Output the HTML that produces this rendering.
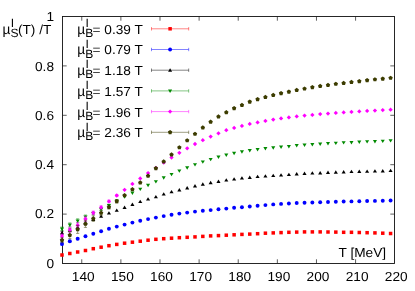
<!DOCTYPE html><html><head><meta charset="utf-8"><style>html,body{margin:0;padding:0;background:#fff}svg{display:block}text{font-family:"Liberation Sans",sans-serif;font-size:13px;fill:#000;text-rendering:geometricPrecision}</style></head><body>
<svg width="415" height="291" viewBox="0 0 415 291">
<rect width="415" height="291" fill="#fff"/>
<path d="M81.76 263.5v-4.2M81.76 16.5v4.2M120.88 263.5v-4.2M120.88 16.5v4.2M159.99 263.5v-4.2M159.99 16.5v4.2M199.11 263.5v-4.2M199.11 16.5v4.2M238.23 263.5v-4.2M238.23 16.5v4.2M277.35 263.5v-4.2M277.35 16.5v4.2M316.46 263.5v-4.2M316.46 16.5v4.2M355.58 263.5v-4.2M355.58 16.5v4.2M62.5 214.10h4.2M394.5 214.10h-4.2M62.5 164.70h4.2M394.5 164.70h-4.2M62.5 115.30h4.2M394.5 115.30h-4.2M62.5 65.90h4.2M394.5 65.90h-4.2" stroke="#000" stroke-width="0.8" stroke-opacity="0.8" fill="none"/>
<rect x="62.5" y="16.5" width="332" height="247" fill="none" stroke="#141414" stroke-width="0.92"/>
<g><rect x="60.25" y="253.25" width="3.5" height="3.5" fill="#ff0000"/><rect x="68.07" y="251.75" width="3.5" height="3.5" fill="#ff0000"/><rect x="75.90" y="250.25" width="3.5" height="3.5" fill="#ff0000"/><rect x="83.72" y="248.75" width="3.5" height="3.5" fill="#ff0000"/><rect x="91.54" y="246.95" width="3.5" height="3.5" fill="#ff0000"/><rect x="99.37" y="245.45" width="3.5" height="3.5" fill="#ff0000"/><rect x="107.19" y="243.95" width="3.5" height="3.5" fill="#ff0000"/><rect x="115.01" y="242.65" width="3.5" height="3.5" fill="#ff0000"/><rect x="122.84" y="241.45" width="3.5" height="3.5" fill="#ff0000"/><rect x="130.66" y="240.45" width="3.5" height="3.5" fill="#ff0000"/><rect x="138.49" y="239.45" width="3.5" height="3.5" fill="#ff0000"/><rect x="146.31" y="238.45" width="3.5" height="3.5" fill="#ff0000"/><rect x="154.13" y="237.55" width="3.5" height="3.5" fill="#ff0000"/><rect x="161.96" y="236.95" width="3.5" height="3.5" fill="#ff0000"/><rect x="169.78" y="236.45" width="3.5" height="3.5" fill="#ff0000"/><rect x="177.60" y="235.95" width="3.5" height="3.5" fill="#ff0000"/><rect x="185.43" y="235.55" width="3.5" height="3.5" fill="#ff0000"/><rect x="193.25" y="235.15" width="3.5" height="3.5" fill="#ff0000"/><rect x="201.07" y="234.65" width="3.5" height="3.5" fill="#ff0000"/><rect x="208.90" y="234.15" width="3.5" height="3.5" fill="#ff0000"/><rect x="216.72" y="233.85" width="3.5" height="3.5" fill="#ff0000"/><rect x="224.54" y="233.45" width="3.5" height="3.5" fill="#ff0000"/><rect x="232.37" y="233.05" width="3.5" height="3.5" fill="#ff0000"/><rect x="240.19" y="232.65" width="3.5" height="3.5" fill="#ff0000"/><rect x="248.01" y="232.35" width="3.5" height="3.5" fill="#ff0000"/><rect x="255.84" y="231.95" width="3.5" height="3.5" fill="#ff0000"/><rect x="263.66" y="231.45" width="3.5" height="3.5" fill="#ff0000"/><rect x="271.49" y="231.15" width="3.5" height="3.5" fill="#ff0000"/><rect x="279.31" y="230.85" width="3.5" height="3.5" fill="#ff0000"/><rect x="287.13" y="230.55" width="3.5" height="3.5" fill="#ff0000"/><rect x="294.96" y="230.35" width="3.5" height="3.5" fill="#ff0000"/><rect x="302.78" y="230.15" width="3.5" height="3.5" fill="#ff0000"/><rect x="310.60" y="230.15" width="3.5" height="3.5" fill="#ff0000"/><rect x="318.43" y="230.15" width="3.5" height="3.5" fill="#ff0000"/><rect x="326.25" y="230.25" width="3.5" height="3.5" fill="#ff0000"/><rect x="334.07" y="230.35" width="3.5" height="3.5" fill="#ff0000"/><rect x="341.90" y="230.55" width="3.5" height="3.5" fill="#ff0000"/><rect x="349.72" y="230.55" width="3.5" height="3.5" fill="#ff0000"/><rect x="357.54" y="230.75" width="3.5" height="3.5" fill="#ff0000"/><rect x="365.37" y="230.95" width="3.5" height="3.5" fill="#ff0000"/><rect x="373.19" y="231.15" width="3.5" height="3.5" fill="#ff0000"/><rect x="381.01" y="231.45" width="3.5" height="3.5" fill="#ff0000"/><rect x="388.84" y="231.75" width="3.5" height="3.5" fill="#ff0000"/></g>
<g><path d="M62.00 243.00V245.00M60.40 243.00h3.2M60.40 245.00h3.2" stroke="#0000ff" stroke-width="0.8" stroke-opacity="0.62" fill="none"/><circle cx="62.00" cy="244.00" r="1.95" fill="#0000ff"/><path d="M69.82 240.30V242.30M68.22 240.30h3.2M68.22 242.30h3.2" stroke="#0000ff" stroke-width="0.8" stroke-opacity="0.62" fill="none"/><circle cx="69.82" cy="241.30" r="1.95" fill="#0000ff"/><path d="M77.65 237.90V239.70M76.05 237.90h3.2M76.05 239.70h3.2" stroke="#0000ff" stroke-width="0.8" stroke-opacity="0.62" fill="none"/><circle cx="77.65" cy="238.80" r="1.95" fill="#0000ff"/><circle cx="85.47" cy="236.30" r="1.95" fill="#0000ff"/><circle cx="93.29" cy="233.70" r="1.95" fill="#0000ff"/><circle cx="101.12" cy="231.30" r="1.95" fill="#0000ff"/><circle cx="108.94" cy="228.80" r="1.95" fill="#0000ff"/><circle cx="116.76" cy="226.60" r="1.95" fill="#0000ff"/><circle cx="124.59" cy="224.60" r="1.95" fill="#0000ff"/><circle cx="132.41" cy="222.60" r="1.95" fill="#0000ff"/><circle cx="140.24" cy="220.80" r="1.95" fill="#0000ff"/><circle cx="148.06" cy="219.10" r="1.95" fill="#0000ff"/><circle cx="155.88" cy="217.60" r="1.95" fill="#0000ff"/><circle cx="163.71" cy="216.10" r="1.95" fill="#0000ff"/><circle cx="171.53" cy="214.80" r="1.95" fill="#0000ff"/><circle cx="179.35" cy="213.60" r="1.95" fill="#0000ff"/><circle cx="187.18" cy="212.60" r="1.95" fill="#0000ff"/><circle cx="195.00" cy="211.60" r="1.95" fill="#0000ff"/><circle cx="202.82" cy="210.80" r="1.95" fill="#0000ff"/><circle cx="210.65" cy="210.10" r="1.95" fill="#0000ff"/><circle cx="218.47" cy="209.30" r="1.95" fill="#0000ff"/><circle cx="226.29" cy="208.60" r="1.95" fill="#0000ff"/><circle cx="234.12" cy="207.80" r="1.95" fill="#0000ff"/><circle cx="241.94" cy="207.30" r="1.95" fill="#0000ff"/><circle cx="249.76" cy="206.50" r="1.95" fill="#0000ff"/><circle cx="257.59" cy="205.70" r="1.95" fill="#0000ff"/><circle cx="265.41" cy="205.10" r="1.95" fill="#0000ff"/><circle cx="273.24" cy="204.40" r="1.95" fill="#0000ff"/><circle cx="281.06" cy="203.90" r="1.95" fill="#0000ff"/><circle cx="288.88" cy="203.50" r="1.95" fill="#0000ff"/><circle cx="296.71" cy="203.00" r="1.95" fill="#0000ff"/><circle cx="304.53" cy="202.80" r="1.95" fill="#0000ff"/><circle cx="312.35" cy="202.50" r="1.95" fill="#0000ff"/><circle cx="320.18" cy="202.30" r="1.95" fill="#0000ff"/><circle cx="328.00" cy="202.00" r="1.95" fill="#0000ff"/><circle cx="335.82" cy="201.80" r="1.95" fill="#0000ff"/><circle cx="343.65" cy="201.50" r="1.95" fill="#0000ff"/><circle cx="351.47" cy="201.40" r="1.95" fill="#0000ff"/><circle cx="359.29" cy="201.20" r="1.95" fill="#0000ff"/><circle cx="367.12" cy="201.00" r="1.95" fill="#0000ff"/><circle cx="374.94" cy="200.90" r="1.95" fill="#0000ff"/><circle cx="382.76" cy="200.70" r="1.95" fill="#0000ff"/><circle cx="390.59" cy="200.50" r="1.95" fill="#0000ff"/></g>
<g><path d="M62.00 231.30V234.30M60.40 231.30h3.2M60.40 234.30h3.2" stroke="#000000" stroke-width="0.8" stroke-opacity="0.62" fill="none"/><path d="M62.00 230.90L64.05 234.30L59.95 234.30Z" fill="#000000"/><path d="M69.82 228.40V231.60M68.22 228.40h3.2M68.22 231.60h3.2" stroke="#000000" stroke-width="0.8" stroke-opacity="0.62" fill="none"/><path d="M69.82 228.10L71.87 231.50L67.77 231.50Z" fill="#000000"/><path d="M77.65 225.70V228.70M76.05 225.70h3.2M76.05 228.70h3.2" stroke="#000000" stroke-width="0.8" stroke-opacity="0.62" fill="none"/><path d="M77.65 225.30L79.70 228.70L75.60 228.70Z" fill="#000000"/><path d="M85.47 221.70V224.30M83.87 221.70h3.2M83.87 224.30h3.2" stroke="#000000" stroke-width="0.8" stroke-opacity="0.62" fill="none"/><path d="M85.47 221.10L87.52 224.50L83.42 224.50Z" fill="#000000"/><path d="M93.29 218.30V220.50M91.69 218.30h3.2M91.69 220.50h3.2" stroke="#000000" stroke-width="0.8" stroke-opacity="0.62" fill="none"/><path d="M93.29 217.50L95.34 220.90L91.24 220.90Z" fill="#000000"/><path d="M101.12 214.40L103.17 217.80L99.07 217.80Z" fill="#000000"/><path d="M108.94 211.20L110.99 214.60L106.89 214.60Z" fill="#000000"/><path d="M116.76 208.40L118.81 211.80L114.71 211.80Z" fill="#000000"/><path d="M124.59 205.60L126.64 209.00L122.54 209.00Z" fill="#000000"/><path d="M132.41 202.50L134.46 205.90L130.36 205.90Z" fill="#000000"/><path d="M140.24 199.70L142.29 203.10L138.19 203.10Z" fill="#000000"/><path d="M148.06 197.20L150.11 200.60L146.01 200.60Z" fill="#000000"/><path d="M155.88 194.90L157.93 198.30L153.83 198.30Z" fill="#000000"/><path d="M163.71 192.20L165.76 195.60L161.66 195.60Z" fill="#000000"/><path d="M171.53 189.90L173.58 193.30L169.48 193.30Z" fill="#000000"/><path d="M179.35 188.10L181.40 191.50L177.30 191.50Z" fill="#000000"/><path d="M187.18 186.10L189.23 189.50L185.13 189.50Z" fill="#000000"/><path d="M195.00 184.00L197.05 187.40L192.95 187.40Z" fill="#000000"/><path d="M202.82 182.30L204.87 185.70L200.77 185.70Z" fill="#000000"/><path d="M210.65 180.80L212.70 184.20L208.60 184.20Z" fill="#000000"/><path d="M218.47 179.50L220.52 182.90L216.42 182.90Z" fill="#000000"/><path d="M226.29 178.20L228.34 181.60L224.24 181.60Z" fill="#000000"/><path d="M234.12 177.20L236.17 180.60L232.07 180.60Z" fill="#000000"/><path d="M241.94 176.20L243.99 179.60L239.89 179.60Z" fill="#000000"/><path d="M249.76 175.50L251.81 178.90L247.71 178.90Z" fill="#000000"/><path d="M257.59 174.70L259.64 178.10L255.54 178.10Z" fill="#000000"/><path d="M265.41 174.20L267.46 177.60L263.36 177.60Z" fill="#000000"/><path d="M273.24 173.70L275.29 177.10L271.19 177.10Z" fill="#000000"/><path d="M281.06 173.20L283.11 176.60L279.01 176.60Z" fill="#000000"/><path d="M288.88 172.70L290.93 176.10L286.83 176.10Z" fill="#000000"/><path d="M296.71 172.00L298.76 175.40L294.66 175.40Z" fill="#000000"/><path d="M304.53 171.60L306.58 175.00L302.48 175.00Z" fill="#000000"/><path d="M312.35 171.20L314.40 174.60L310.30 174.60Z" fill="#000000"/><path d="M320.18 171.00L322.23 174.40L318.13 174.40Z" fill="#000000"/><path d="M328.00 170.60L330.05 174.00L325.95 174.00Z" fill="#000000"/><path d="M335.82 170.30L337.87 173.70L333.77 173.70Z" fill="#000000"/><path d="M343.65 170.00L345.70 173.40L341.60 173.40Z" fill="#000000"/><path d="M351.47 169.70L353.52 173.10L349.42 173.10Z" fill="#000000"/><path d="M359.29 169.50L361.34 172.90L357.24 172.90Z" fill="#000000"/><path d="M367.12 169.40L369.17 172.80L365.07 172.80Z" fill="#000000"/><path d="M374.94 169.20L376.99 172.60L372.89 172.60Z" fill="#000000"/><path d="M382.76 169.00L384.81 172.40L380.71 172.40Z" fill="#000000"/><path d="M390.59 168.70L392.64 172.10L388.54 172.10Z" fill="#000000"/></g>
<g><path d="M62.00 227.00V230.60M60.40 227.00h3.2M60.40 230.60h3.2" stroke="#008a00" stroke-width="0.8" stroke-opacity="0.62" fill="none"/><path d="M62.00 230.90L64.05 227.50L59.95 227.50Z" fill="#008a00"/><path d="M69.82 222.90V226.90M68.22 222.90h3.2M68.22 226.90h3.2" stroke="#008a00" stroke-width="0.8" stroke-opacity="0.62" fill="none"/><path d="M69.82 227.00L71.87 223.60L67.77 223.60Z" fill="#008a00"/><path d="M77.65 218.80V222.80M76.05 218.80h3.2M76.05 222.80h3.2" stroke="#008a00" stroke-width="0.8" stroke-opacity="0.62" fill="none"/><path d="M77.65 222.90L79.70 219.50L75.60 219.50Z" fill="#008a00"/><path d="M85.47 215.00V218.40M83.87 215.00h3.2M83.87 218.40h3.2" stroke="#008a00" stroke-width="0.8" stroke-opacity="0.62" fill="none"/><path d="M85.47 218.80L87.52 215.40L83.42 215.40Z" fill="#008a00"/><path d="M93.29 211.90V214.70M91.69 211.90h3.2M91.69 214.70h3.2" stroke="#008a00" stroke-width="0.8" stroke-opacity="0.62" fill="none"/><path d="M93.29 215.40L95.34 212.00L91.24 212.00Z" fill="#008a00"/><path d="M101.12 207.90V210.30M99.52 207.90h3.2M99.52 210.30h3.2" stroke="#008a00" stroke-width="0.8" stroke-opacity="0.62" fill="none"/><path d="M101.12 211.20L103.17 207.80L99.07 207.80Z" fill="#008a00"/><path d="M108.94 204.20V206.20M107.34 204.20h3.2M107.34 206.20h3.2" stroke="#008a00" stroke-width="0.8" stroke-opacity="0.62" fill="none"/><path d="M108.94 207.30L110.99 203.90L106.89 203.90Z" fill="#008a00"/><path d="M116.76 203.00L118.81 199.60L114.71 199.60Z" fill="#008a00"/><path d="M124.59 198.70L126.64 195.30L122.54 195.30Z" fill="#008a00"/><path d="M132.41 194.90L134.46 191.50L130.36 191.50Z" fill="#008a00"/><path d="M140.24 191.10L142.29 187.70L138.19 187.70Z" fill="#008a00"/><path d="M148.06 187.20L150.11 183.80L146.01 183.80Z" fill="#008a00"/><path d="M155.88 183.60L157.93 180.20L153.83 180.20Z" fill="#008a00"/><path d="M163.71 179.70L165.76 176.30L161.66 176.30Z" fill="#008a00"/><path d="M171.53 176.30L173.58 172.90L169.48 172.90Z" fill="#008a00"/><path d="M179.35 172.80L181.40 169.40L177.30 169.40Z" fill="#008a00"/><path d="M187.18 169.70L189.23 166.30L185.13 166.30Z" fill="#008a00"/><path d="M195.00 166.60L197.05 163.20L192.95 163.20Z" fill="#008a00"/><path d="M202.82 163.80L204.87 160.40L200.77 160.40Z" fill="#008a00"/><path d="M210.65 161.30L212.70 157.90L208.60 157.90Z" fill="#008a00"/><path d="M218.47 158.90L220.52 155.50L216.42 155.50Z" fill="#008a00"/><path d="M226.29 156.90L228.34 153.50L224.24 153.50Z" fill="#008a00"/><path d="M234.12 155.20L236.17 151.80L232.07 151.80Z" fill="#008a00"/><path d="M241.94 153.70L243.99 150.30L239.89 150.30Z" fill="#008a00"/><path d="M249.76 152.40L251.81 149.00L247.71 149.00Z" fill="#008a00"/><path d="M257.59 151.40L259.64 148.00L255.54 148.00Z" fill="#008a00"/><path d="M265.41 150.40L267.46 147.00L263.36 147.00Z" fill="#008a00"/><path d="M273.24 149.70L275.29 146.30L271.19 146.30Z" fill="#008a00"/><path d="M281.06 148.90L283.11 145.50L279.01 145.50Z" fill="#008a00"/><path d="M288.88 148.40L290.93 145.00L286.83 145.00Z" fill="#008a00"/><path d="M296.71 147.50L298.76 144.10L294.66 144.10Z" fill="#008a00"/><path d="M304.53 147.00L306.58 143.60L302.48 143.60Z" fill="#008a00"/><path d="M312.35 146.40L314.40 143.00L310.30 143.00Z" fill="#008a00"/><path d="M320.18 145.90L322.23 142.50L318.13 142.50Z" fill="#008a00"/><path d="M328.00 145.40L330.05 142.00L325.95 142.00Z" fill="#008a00"/><path d="M335.82 145.10L337.87 141.70L333.77 141.70Z" fill="#008a00"/><path d="M343.65 144.60L345.70 141.20L341.60 141.20Z" fill="#008a00"/><path d="M351.47 144.40L353.52 141.00L349.42 141.00Z" fill="#008a00"/><path d="M359.29 143.90L361.34 140.50L357.24 140.50Z" fill="#008a00"/><path d="M367.12 143.60L369.17 140.20L365.07 140.20Z" fill="#008a00"/><path d="M374.94 143.40L376.99 140.00L372.89 140.00Z" fill="#008a00"/><path d="M382.76 143.10L384.81 139.70L380.71 139.70Z" fill="#008a00"/><path d="M390.59 142.60L392.64 139.20L388.54 139.20Z" fill="#008a00"/></g>
<g><path d="M62.00 234.10V238.10M60.40 234.10h3.2M60.40 238.10h3.2" stroke="#ff00ff" stroke-width="0.8" stroke-opacity="0.62" fill="none"/><path d="M62.00 233.95L64.15 236.10L62.00 238.25L59.85 236.10Z" fill="#ff00ff"/><path d="M69.82 227.40V232.60M68.22 227.40h3.2M68.22 232.60h3.2" stroke="#ff00ff" stroke-width="0.8" stroke-opacity="0.62" fill="none"/><path d="M69.82 227.85L71.97 230.00L69.82 232.15L67.67 230.00Z" fill="#ff00ff"/><path d="M77.65 222.60V227.80M76.05 222.60h3.2M76.05 227.80h3.2" stroke="#ff00ff" stroke-width="0.8" stroke-opacity="0.62" fill="none"/><path d="M77.65 223.05L79.80 225.20L77.65 227.35L75.50 225.20Z" fill="#ff00ff"/><path d="M85.47 216.80V221.20M83.87 216.80h3.2M83.87 221.20h3.2" stroke="#ff00ff" stroke-width="0.8" stroke-opacity="0.62" fill="none"/><path d="M85.47 216.85L87.62 219.00L85.47 221.15L83.32 219.00Z" fill="#ff00ff"/><path d="M93.29 211.00V214.60M91.69 211.00h3.2M91.69 214.60h3.2" stroke="#ff00ff" stroke-width="0.8" stroke-opacity="0.62" fill="none"/><path d="M93.29 210.65L95.44 212.80L93.29 214.95L91.14 212.80Z" fill="#ff00ff"/><path d="M101.12 205.80V208.80M99.52 205.80h3.2M99.52 208.80h3.2" stroke="#ff00ff" stroke-width="0.8" stroke-opacity="0.62" fill="none"/><path d="M101.12 205.15L103.27 207.30L101.12 209.45L98.97 207.30Z" fill="#ff00ff"/><path d="M108.94 200.10V202.50M107.34 200.10h3.2M107.34 202.50h3.2" stroke="#ff00ff" stroke-width="0.8" stroke-opacity="0.62" fill="none"/><path d="M108.94 199.15L111.09 201.30L108.94 203.45L106.79 201.30Z" fill="#ff00ff"/><path d="M116.76 194.50V196.50M115.16 194.50h3.2M115.16 196.50h3.2" stroke="#ff00ff" stroke-width="0.8" stroke-opacity="0.62" fill="none"/><path d="M116.76 193.35L118.91 195.50L116.76 197.65L114.61 195.50Z" fill="#ff00ff"/><path d="M124.59 187.65L126.74 189.80L124.59 191.95L122.44 189.80Z" fill="#ff00ff"/><path d="M132.41 181.75L134.56 183.90L132.41 186.05L130.26 183.90Z" fill="#ff00ff"/><path d="M140.24 176.25L142.39 178.40L140.24 180.55L138.09 178.40Z" fill="#ff00ff"/><path d="M148.06 170.95L150.21 173.10L148.06 175.25L145.91 173.10Z" fill="#ff00ff"/><path d="M155.88 165.85L158.03 168.00L155.88 170.15L153.73 168.00Z" fill="#ff00ff"/><path d="M163.71 160.45L165.86 162.60L163.71 164.75L161.56 162.60Z" fill="#ff00ff"/><path d="M171.53 155.45L173.68 157.60L171.53 159.75L169.38 157.60Z" fill="#ff00ff"/><path d="M179.35 150.65L181.50 152.80L179.35 154.95L177.20 152.80Z" fill="#ff00ff"/><path d="M187.18 146.15L189.33 148.30L187.18 150.45L185.03 148.30Z" fill="#ff00ff"/><path d="M195.00 141.85L197.15 144.00L195.00 146.15L192.85 144.00Z" fill="#ff00ff"/><path d="M202.82 138.05L204.97 140.20L202.82 142.35L200.67 140.20Z" fill="#ff00ff"/><path d="M210.65 134.45L212.80 136.60L210.65 138.75L208.50 136.60Z" fill="#ff00ff"/><path d="M218.47 131.15L220.62 133.30L218.47 135.45L216.32 133.30Z" fill="#ff00ff"/><path d="M226.29 128.05L228.44 130.20L226.29 132.35L224.14 130.20Z" fill="#ff00ff"/><path d="M234.12 125.75L236.27 127.90L234.12 130.05L231.97 127.90Z" fill="#ff00ff"/><path d="M241.94 123.75L244.09 125.90L241.94 128.05L239.79 125.90Z" fill="#ff00ff"/><path d="M249.76 121.75L251.91 123.90L249.76 126.05L247.61 123.90Z" fill="#ff00ff"/><path d="M257.59 120.25L259.74 122.40L257.59 124.55L255.44 122.40Z" fill="#ff00ff"/><path d="M265.41 118.75L267.56 120.90L265.41 123.05L263.26 120.90Z" fill="#ff00ff"/><path d="M273.24 117.45L275.39 119.60L273.24 121.75L271.09 119.60Z" fill="#ff00ff"/><path d="M281.06 116.25L283.21 118.40L281.06 120.55L278.91 118.40Z" fill="#ff00ff"/><path d="M288.88 115.25L291.03 117.40L288.88 119.55L286.73 117.40Z" fill="#ff00ff"/><path d="M296.71 114.25L298.86 116.40L296.71 118.55L294.56 116.40Z" fill="#ff00ff"/><path d="M304.53 113.45L306.68 115.60L304.53 117.75L302.38 115.60Z" fill="#ff00ff"/><path d="M312.35 112.75L314.50 114.90L312.35 117.05L310.20 114.90Z" fill="#ff00ff"/><path d="M320.18 111.95L322.33 114.10L320.18 116.25L318.03 114.10Z" fill="#ff00ff"/><path d="M328.00 111.45L330.15 113.60L328.00 115.75L325.85 113.60Z" fill="#ff00ff"/><path d="M335.82 110.75L337.97 112.90L335.82 115.05L333.67 112.90Z" fill="#ff00ff"/><path d="M343.65 110.25L345.80 112.40L343.65 114.55L341.50 112.40Z" fill="#ff00ff"/><path d="M351.47 109.75L353.62 111.90L351.47 114.05L349.32 111.90Z" fill="#ff00ff"/><path d="M359.29 109.25L361.44 111.40L359.29 113.55L357.14 111.40Z" fill="#ff00ff"/><path d="M367.12 108.75L369.27 110.90L367.12 113.05L364.97 110.90Z" fill="#ff00ff"/><path d="M374.94 108.45L377.09 110.60L374.94 112.75L372.79 110.60Z" fill="#ff00ff"/><path d="M382.76 107.95L384.91 110.10L382.76 112.25L380.61 110.10Z" fill="#ff00ff"/><path d="M390.59 107.55L392.74 109.70L390.59 111.85L388.44 109.70Z" fill="#ff00ff"/></g>
<g><path d="M62.00 237.70V242.70M60.40 237.70h3.2M60.40 242.70h3.2" stroke="#3c3c00" stroke-width="0.8" stroke-opacity="0.62" fill="none"/><path d="M62.00 237.90L64.19 239.49L63.35 242.06L60.65 242.06L59.81 239.49Z" fill="#3c3c00"/><path d="M69.82 231.60V238.60M68.22 231.60h3.2M68.22 238.60h3.2" stroke="#3c3c00" stroke-width="0.8" stroke-opacity="0.62" fill="none"/><path d="M69.82 232.80L72.01 234.39L71.18 236.96L68.47 236.96L67.64 234.39Z" fill="#3c3c00"/><path d="M77.65 225.40V233.40M76.05 225.40h3.2M76.05 233.40h3.2" stroke="#3c3c00" stroke-width="0.8" stroke-opacity="0.62" fill="none"/><path d="M77.65 227.10L79.83 228.69L79.00 231.26L76.30 231.26L75.46 228.69Z" fill="#3c3c00"/><path d="M85.47 220.40V227.40M83.87 220.40h3.2M83.87 227.40h3.2" stroke="#3c3c00" stroke-width="0.8" stroke-opacity="0.62" fill="none"/><path d="M85.47 221.60L87.66 223.19L86.82 225.76L84.12 225.76L83.28 223.19Z" fill="#3c3c00"/><path d="M93.29 215.80V221.40M91.69 215.80h3.2M91.69 221.40h3.2" stroke="#3c3c00" stroke-width="0.8" stroke-opacity="0.62" fill="none"/><path d="M93.29 216.30L95.48 217.89L94.65 220.46L91.94 220.46L91.11 217.89Z" fill="#3c3c00"/><path d="M101.12 210.70V215.30M99.52 210.70h3.2M99.52 215.30h3.2" stroke="#3c3c00" stroke-width="0.8" stroke-opacity="0.62" fill="none"/><path d="M101.12 210.70L103.31 212.29L102.47 214.86L99.77 214.86L98.93 212.29Z" fill="#3c3c00"/><path d="M108.94 205.30V209.10M107.34 205.30h3.2M107.34 209.10h3.2" stroke="#3c3c00" stroke-width="0.8" stroke-opacity="0.62" fill="none"/><path d="M108.94 204.90L111.13 206.49L110.29 209.06L107.59 209.06L106.75 206.49Z" fill="#3c3c00"/><path d="M116.76 199.70V202.90M115.16 199.70h3.2M115.16 202.90h3.2" stroke="#3c3c00" stroke-width="0.8" stroke-opacity="0.62" fill="none"/><path d="M116.76 199.00L118.95 200.59L118.12 203.16L115.41 203.16L114.58 200.59Z" fill="#3c3c00"/><path d="M124.59 193.10L126.78 194.69L125.94 197.26L123.24 197.26L122.40 194.69Z" fill="#3c3c00"/><path d="M132.41 187.10L134.60 188.69L133.76 191.26L131.06 191.26L130.22 188.69Z" fill="#3c3c00"/><path d="M140.24 180.30L142.42 181.89L141.59 184.46L138.88 184.46L138.05 181.89Z" fill="#3c3c00"/><path d="M148.06 173.60L150.25 175.19L149.41 177.76L146.71 177.76L145.87 175.19Z" fill="#3c3c00"/><path d="M155.88 166.00L158.07 167.59L157.23 170.16L154.53 170.16L153.69 167.59Z" fill="#3c3c00"/><path d="M163.71 159.30L165.89 160.89L165.06 163.46L162.35 163.46L161.52 160.89Z" fill="#3c3c00"/><path d="M171.53 152.30L173.72 153.89L172.88 156.46L170.18 156.46L169.34 153.89Z" fill="#3c3c00"/><path d="M179.35 145.20L181.54 146.79L180.70 149.36L178.00 149.36L177.17 146.79Z" fill="#3c3c00"/><path d="M187.18 138.20L189.36 139.79L188.53 142.36L185.82 142.36L184.99 139.79Z" fill="#3c3c00"/><path d="M195.00 131.70L197.19 133.29L196.35 135.86L193.65 135.86L192.81 133.29Z" fill="#3c3c00"/><path d="M202.82 125.30L205.01 126.89L204.18 129.46L201.47 129.46L200.64 126.89Z" fill="#3c3c00"/><path d="M210.65 119.60L212.83 121.19L212.00 123.76L209.30 123.76L208.46 121.19Z" fill="#3c3c00"/><path d="M218.47 114.30L220.66 115.89L219.82 118.46L217.12 118.46L216.28 115.89Z" fill="#3c3c00"/><path d="M226.29 110.10L228.48 111.69L227.65 114.26L224.94 114.26L224.11 111.69Z" fill="#3c3c00"/><path d="M234.12 106.00L236.31 107.59L235.47 110.16L232.77 110.16L231.93 107.59Z" fill="#3c3c00"/><path d="M241.94 102.80L244.13 104.39L243.29 106.96L240.59 106.96L239.75 104.39Z" fill="#3c3c00"/><path d="M249.76 99.50L251.95 101.09L251.12 103.66L248.41 103.66L247.58 101.09Z" fill="#3c3c00"/><path d="M257.59 97.00L259.78 98.59L258.94 101.16L256.24 101.16L255.40 98.59Z" fill="#3c3c00"/><path d="M265.41 94.80L267.60 96.39L266.76 98.96L264.06 98.96L263.22 96.39Z" fill="#3c3c00"/><path d="M273.24 92.80L275.42 94.39L274.59 96.96L271.88 96.96L271.05 94.39Z" fill="#3c3c00"/><path d="M281.06 91.00L283.25 92.59L282.41 95.16L279.71 95.16L278.87 92.59Z" fill="#3c3c00"/><path d="M288.88 89.50L291.07 91.09L290.23 93.66L287.53 93.66L286.69 91.09Z" fill="#3c3c00"/><path d="M296.71 87.80L298.89 89.39L298.06 91.96L295.35 91.96L294.52 89.39Z" fill="#3c3c00"/><path d="M304.53 86.40L306.72 87.99L305.88 90.56L303.18 90.56L302.34 87.99Z" fill="#3c3c00"/><path d="M312.35 85.00L314.54 86.59L313.70 89.16L311.00 89.16L310.17 86.59Z" fill="#3c3c00"/><path d="M320.18 83.80L322.36 85.39L321.53 87.96L318.82 87.96L317.99 85.39Z" fill="#3c3c00"/><path d="M328.00 82.80L330.19 84.39L329.35 86.96L326.65 86.96L325.81 84.39Z" fill="#3c3c00"/><path d="M335.82 81.70L338.01 83.29L337.18 85.86L334.47 85.86L333.64 83.29Z" fill="#3c3c00"/><path d="M343.65 80.80L345.83 82.39L345.00 84.96L342.30 84.96L341.46 82.39Z" fill="#3c3c00"/><path d="M351.47 79.80L353.66 81.39L352.82 83.96L350.12 83.96L349.28 81.39Z" fill="#3c3c00"/><path d="M359.29 79.00L361.48 80.59L360.65 83.16L357.94 83.16L357.11 80.59Z" fill="#3c3c00"/><path d="M367.12 78.00L369.31 79.59L368.47 82.16L365.77 82.16L364.93 79.59Z" fill="#3c3c00"/><path d="M374.94 77.20L377.13 78.79L376.29 81.36L373.59 81.36L372.75 78.79Z" fill="#3c3c00"/><path d="M382.76 76.50L384.95 78.09L384.12 80.66L381.41 80.66L380.58 78.09Z" fill="#3c3c00"/><path d="M390.59 75.70L392.78 77.29L391.94 79.86L389.24 79.86L388.40 77.29Z" fill="#3c3c00"/></g>
<g opacity="0.999">
<text transform="translate(83.26,281.30) scale(1.0515,1)" text-anchor="middle">140</text>
<text transform="translate(122.38,281.30) scale(1.0515,1)" text-anchor="middle">150</text>
<text transform="translate(161.49,281.30) scale(1.0515,1)" text-anchor="middle">160</text>
<text transform="translate(200.61,281.30) scale(1.0515,1)" text-anchor="middle">170</text>
<text transform="translate(239.73,281.30) scale(1.0515,1)" text-anchor="middle">180</text>
<text transform="translate(278.85,281.30) scale(1.0515,1)" text-anchor="middle">190</text>
<text transform="translate(317.96,281.30) scale(1.0515,1)" text-anchor="middle">200</text>
<text transform="translate(357.08,281.30) scale(1.0515,1)" text-anchor="middle">210</text>
<text transform="translate(396.20,281.30) scale(1.0515,1)" text-anchor="middle">220</text>
<text transform="translate(54.00,267.55) scale(1.0515,1)" text-anchor="end">0</text>
<text transform="translate(54.00,218.29) scale(1.0515,1)" text-anchor="end">0.2</text>
<text transform="translate(54.00,169.03) scale(1.0515,1)" text-anchor="end">0.4</text>
<text transform="translate(54.00,119.77) scale(1.0515,1)" text-anchor="end">0.6</text>
<text transform="translate(54.00,70.51) scale(1.0515,1)" text-anchor="end">0.8</text>
<text transform="translate(54.00,21.25) scale(1.0515,1)" text-anchor="end">1</text>
<text transform="translate(338.50,256.70) scale(1.0515,1)" text-anchor="start">T [MeV]</text>
<text transform="translate(2.50,34.00) scale(1.0515,1.1)">µ</text><text transform="translate(10.57,37.20) scale(1.0,1)" style="font-size:12px">S</text><text transform="translate(10.87,27.30) scale(1.0,1)" style="font-size:12px">I</text><text transform="translate(17.88,34.00) scale(1.0515,1)">(T) /T</text>
<text transform="translate(77.20,33.70) scale(1.0515,1.1)">µ</text><text transform="translate(85.27,36.90) scale(1.0,1)" style="font-size:12px">B</text><text transform="translate(85.57,27.00) scale(1.0,1)" style="font-size:12px">I</text><text transform="translate(92.58,33.70) scale(1.0515,1)">= 0.39 T</text>
<path d="M151.5 28.80H188.7M151.5 27.10v3.4M188.7 27.10v3.4" stroke="#ff0000" stroke-width="0.8" stroke-opacity="0.62" fill="none"/>
<rect x="168.35" y="27.05" width="3.5" height="3.5" fill="#ff0000"/>
<text transform="translate(77.20,54.40) scale(1.0515,1.1)">µ</text><text transform="translate(85.27,57.60) scale(1.0,1)" style="font-size:12px">B</text><text transform="translate(85.57,47.70) scale(1.0,1)" style="font-size:12px">I</text><text transform="translate(92.58,54.40) scale(1.0515,1)">= 0.79 T</text>
<path d="M151.5 49.50H188.7M151.5 47.80v3.4M188.7 47.80v3.4" stroke="#0000ff" stroke-width="0.8" stroke-opacity="0.62" fill="none"/>
<circle cx="170.10" cy="49.50" r="1.95" fill="#0000ff"/>
<text transform="translate(77.20,75.10) scale(1.0515,1.1)">µ</text><text transform="translate(85.27,78.30) scale(1.0,1)" style="font-size:12px">B</text><text transform="translate(85.57,68.40) scale(1.0,1)" style="font-size:12px">I</text><text transform="translate(92.58,75.10) scale(1.0515,1)">= 1.18 T</text>
<path d="M151.5 70.20H188.7M151.5 68.50v3.4M188.7 68.50v3.4" stroke="#000000" stroke-width="0.8" stroke-opacity="0.62" fill="none"/>
<path d="M170.10 68.30L172.15 71.70L168.05 71.70Z" fill="#000000"/>
<text transform="translate(77.20,95.80) scale(1.0515,1.1)">µ</text><text transform="translate(85.27,99.00) scale(1.0,1)" style="font-size:12px">B</text><text transform="translate(85.57,89.10) scale(1.0,1)" style="font-size:12px">I</text><text transform="translate(92.58,95.80) scale(1.0515,1)">= 1.57 T</text>
<path d="M151.5 90.90H188.7M151.5 89.20v3.4M188.7 89.20v3.4" stroke="#008a00" stroke-width="0.8" stroke-opacity="0.62" fill="none"/>
<path d="M170.10 93.00L172.15 89.60L168.05 89.60Z" fill="#008a00"/>
<text transform="translate(77.20,116.50) scale(1.0515,1.1)">µ</text><text transform="translate(85.27,119.70) scale(1.0,1)" style="font-size:12px">B</text><text transform="translate(85.57,109.80) scale(1.0,1)" style="font-size:12px">I</text><text transform="translate(92.58,116.50) scale(1.0515,1)">= 1.96 T</text>
<path d="M151.5 111.60H188.7M151.5 109.90v3.4M188.7 109.90v3.4" stroke="#ff00ff" stroke-width="0.8" stroke-opacity="0.62" fill="none"/>
<path d="M170.10 109.45L172.25 111.60L170.10 113.75L167.95 111.60Z" fill="#ff00ff"/>
<text transform="translate(77.20,137.20) scale(1.0515,1.1)">µ</text><text transform="translate(85.27,140.40) scale(1.0,1)" style="font-size:12px">B</text><text transform="translate(85.57,130.50) scale(1.0,1)" style="font-size:12px">I</text><text transform="translate(92.58,137.20) scale(1.0515,1)">= 2.36 T</text>
<path d="M151.5 132.30H188.7M151.5 130.60v3.4M188.7 130.60v3.4" stroke="#3c3c00" stroke-width="0.8" stroke-opacity="0.62" fill="none"/>
<path d="M170.10 130.00L172.29 131.59L171.45 134.16L168.75 134.16L167.91 131.59Z" fill="#3c3c00"/>
</g>
</svg></body></html>
